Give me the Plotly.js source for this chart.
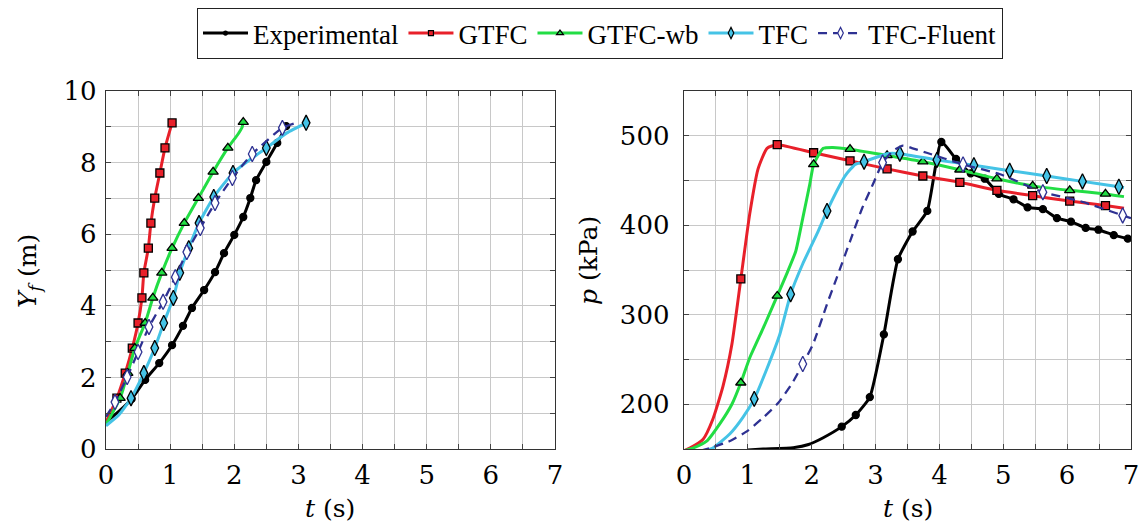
<!DOCTYPE html>
<html>
<head>
<meta charset="utf-8">
<script src="https://cdn.plot.ly/plotly-3.0.1.min.js"></script>
<style>html,body{margin:0;padding:0;background:#fff;}#chart{width:1142px;height:525px;}</style>
</head>
<body>
<div id="chart"></div>
<script>
// ---------- Left panel: flame front position Y_f (m) vs t (s) ----------
const expT_L = [0, 0.2, 0.40, 0.61, 0.83, 1.03, 1.20, 1.34, 1.53, 1.70, 1.84, 2.00, 2.14, 2.25, 2.34, 2.50, 2.67, 2.81];
const expY_L = [0.75, 1.05, 1.40, 1.93, 2.40, 2.90, 3.44, 3.94, 4.44, 4.94, 5.47, 5.98, 6.48, 7.01, 7.51, 8.02, 8.55, 9.02];

const gtfcT_L = [0, 0.08, 0.17, 0.30, 0.41, 0.50, 0.56, 0.59, 0.66, 0.70, 0.76, 0.84, 0.92, 1.03];
const gtfcY_L = [0.75, 1.05, 1.42, 2.12, 2.82, 3.52, 4.22, 4.92, 5.61, 6.31, 7.01, 7.71, 8.41, 9.11];

const wbT_L = [0, 0.22, 0.34, 0.45, 0.61, 0.73, 0.87, 1.03, 1.22, 1.44, 1.67, 1.90, 2.06, 2.12, 2.14];
const wbY_L = [0.68, 1.42, 2.12, 2.82, 3.52, 4.22, 4.92, 5.61, 6.31, 7.01, 7.74, 8.41, 8.80, 8.98, 9.13];

const tfcT_L = [0, 0.20, 0.39, 0.59, 0.76, 0.90, 1.05, 1.15, 1.29, 1.45, 1.68, 1.98, 2.28, 2.50, 2.82, 3.12];
const tfcY_L = [0.65, 0.95, 1.42, 2.12, 2.82, 3.52, 4.22, 4.92, 5.61, 6.31, 7.04, 7.71, 8.13, 8.41, 8.83, 9.11];

const fluT_L = [0, 0.14, 0.33, 0.50, 0.67, 0.89, 1.08, 1.26, 1.47, 1.70, 1.97, 2.28, 2.75, 2.98];
const fluY_L = [0.90, 1.31, 2.01, 2.71, 3.41, 4.11, 4.80, 5.50, 6.17, 6.87, 7.57, 8.24, 8.97, 9.12];

// ---------- Right panel: pressure p (kPa) vs t (s) ----------
const expT_R = [1.0, 1.24, 1.71, 1.95, 2.18, 2.47, 2.69, 2.91, 3.13, 3.35, 3.58, 3.81, 4.03, 4.26, 4.49, 4.71, 4.93, 5.16, 5.38, 5.62, 5.84, 6.06, 6.29, 6.49, 6.73, 6.95];
const expP_R = [149, 150, 151.5, 155, 162.6, 175, 188, 208, 278, 362, 393, 416, 493, 474, 458, 452, 435, 429, 420, 418, 408, 404, 397, 395, 389, 385];

const gtfcT_R = [0, 0.09, 0.30, 0.45, 0.61, 0.75, 0.89, 1.03, 1.16, 1.30, 1.46, 2.03, 2.60, 3.18, 3.74, 4.32, 4.90, 5.46, 6.04, 6.60, 6.89];
const gtfcP_R = [148, 151, 161, 183, 220, 267, 340, 413, 463, 486, 490, 481, 472, 463, 455, 448, 439, 433, 427, 422, 419];
const gtfcMT_R = [0.89, 1.46, 2.03, 2.60, 3.18, 3.74, 4.32, 4.90, 5.46, 6.04, 6.60];
const gtfcMP_R = [340, 490, 481, 472, 463, 455, 448, 439, 433, 427, 422];

const wbT_R = [0, 0.14, 0.36, 0.56, 0.75, 0.89, 1.03, 1.24, 1.46, 1.61, 1.75, 1.86, 1.97, 2.03, 2.18, 2.33, 2.60, 3.18, 3.74, 4.32, 4.90, 5.46, 6.04, 6.60, 6.89];
const wbP_R = [148, 151, 159, 178, 200, 224, 252, 285, 321, 346, 371, 408, 446, 468, 486, 487, 485, 478, 471, 462, 452, 444, 439, 435, 432];
const wbMT_R = [0.89, 1.46, 2.03, 2.60, 3.18, 3.74, 4.32, 4.90, 5.46, 6.04, 6.60];
const wbMP_R = [224, 321, 468, 485, 478, 471, 462, 452, 444, 439, 435];

const tfcT_R = [0.3, 0.45, 0.72, 0.92, 1.10, 1.30, 1.50, 1.67, 1.86, 2.08, 2.24, 2.39, 2.52, 2.68, 2.82, 3.18, 3.38, 3.96, 4.54, 5.10, 5.68, 6.24, 6.81, 6.89];
const tfcP_R = [148, 151, 167, 185, 206, 240, 278, 323, 357, 390, 416, 438, 455, 468, 471, 480, 480, 473, 467, 461, 455, 449, 443, 442];
const tfcMT_R = [1.10, 1.67, 2.24, 2.82, 3.38, 3.96, 4.54, 5.10, 5.68, 6.24, 6.81];
const tfcMP_R = [206, 323, 416, 471, 480, 473, 467, 461, 455, 449, 443];

const fluT_R = [0.25, 0.41, 0.72, 0.99, 1.24, 1.47, 1.69, 1.86, 2.02, 2.24, 2.39, 2.60, 2.79, 2.96, 3.11, 3.27, 3.43, 3.58, 3.80, 4.37, 4.95, 5.62, 6.20, 6.87, 7.0];
const fluP_R = [148, 151, 159, 170, 185, 201, 223, 245, 267, 312, 341, 382, 419, 446, 470, 483, 489, 486, 481, 468, 457, 437, 427, 411, 408];
const fluMT_R = [1.86, 3.11, 4.37, 5.62, 6.87];
const fluMP_R = [245, 470, 468, 437, 411];

const seriesNames = ["Experimental", "GTFC", "GTFC-wb", "TFC", "TFC-Fluent"];
const xTickLabels = ["0", "1", "2", "3", "4", "5", "6", "7"];

// ---------- styling ----------
const LEGFONT = "Liberation Serif";
const AXFONT = "DejaVu Serif";
function font(size, fam) { return {family: fam || LEGFONT, size: size, color: "#000"}; }
const C = {
  exp: "#000000",
  gtfc: "#e8202a",
  wb: "#22dd44",
  tfc: "#45c3e6",
  flu: "#2e3192"
};
const styles = {
  "Experimental": {color: C.exp, width: 3, dash: "solid", sym: "circle", size: 7, fill: C.exp, lc: C.exp},
  "GTFC": {color: C.gtfc, width: 3, dash: "solid", sym: "square", size: 8, fill: C.gtfc, lc: "#000"},
  "GTFC-wb": {color: C.wb, width: 3, dash: "solid", sym: "triangle-up", size: 9, fill: C.wb, lc: "#000"},
  "TFC": {color: C.tfc, width: 3, dash: "solid", sym: "diamond-tall", size: 11, fill: C.tfc, lc: "#000"},
  "TFC-Fluent": {color: C.flu, width: 2.3, dash: "9px,6px", sym: "diamond-tall", size: 11, fill: "#fff", lc: C.flu}
};

function lineTrace(name, x, y, xa, ya) {
  const s = styles[name];
  return {x: x, y: y, xaxis: xa, yaxis: ya, mode: "lines", type: "scatter", showlegend: false,
    hoverinfo: "skip", line: {color: s.color, width: s.width, dash: s.dash, shape: "spline", smoothing: 0.5}};
}
function markTrace(name, x, y, xa, ya) {
  const s = styles[name];
  return {x: x, y: y, xaxis: xa, yaxis: ya, mode: "markers", type: "scatter", showlegend: false,
    hoverinfo: "skip", marker: {symbol: s.sym, size: s.size, color: s.fill, line: {color: s.lc, width: 1.3}}};
}
function legendTrace(name) {
  const s = styles[name];
  return {x: [null], y: [null], name: name, mode: "lines+markers", type: "scatter", showlegend: true,
    line: {color: s.color, width: s.width, dash: s.dash},
    marker: {symbol: s.sym, size: s.size - 3, color: s.fill, line: {color: s.lc, width: 1.2}}};
}

const traces = [];
// Left panel
traces.push(lineTrace("Experimental", expT_L, expY_L, "x", "y"));
traces.push(markTrace("Experimental", expT_L.slice(2), expY_L.slice(2), "x", "y"));
traces.push(lineTrace("GTFC", gtfcT_L, gtfcY_L, "x", "y"));
traces.push(markTrace("GTFC", gtfcT_L.slice(2), gtfcY_L.slice(2), "x", "y"));
traces.push(lineTrace("GTFC-wb", wbT_L, wbY_L, "x", "y"));
traces.push(markTrace("GTFC-wb", wbT_L.filter((t, i) => i > 0 && i !== 12 && i !== 13), wbY_L.filter((t, i) => i > 0 && i !== 12 && i !== 13), "x", "y"));
traces.push(lineTrace("TFC", tfcT_L, tfcY_L, "x", "y"));
traces.push(markTrace("TFC", tfcT_L.filter((t, i) => i > 1 && i !== 12 && i !== 14), tfcY_L.filter((t, i) => i > 1 && i !== 12 && i !== 14), "x", "y"));
traces.push(lineTrace("TFC-Fluent", fluT_L, fluY_L, "x", "y"));
traces.push(markTrace("TFC-Fluent", fluT_L.slice(1, -1), fluY_L.slice(1, -1), "x", "y"));
// Right panel
traces.push(lineTrace("Experimental", expT_R, expP_R, "x2", "y2"));
traces.push(markTrace("Experimental", expT_R.slice(5), expP_R.slice(5), "x2", "y2"));
traces.push(lineTrace("GTFC", gtfcT_R, gtfcP_R, "x2", "y2"));
traces.push(markTrace("GTFC", gtfcMT_R, gtfcMP_R, "x2", "y2"));
traces.push(lineTrace("GTFC-wb", wbT_R, wbP_R, "x2", "y2"));
traces.push(markTrace("GTFC-wb", wbMT_R, wbMP_R, "x2", "y2"));
traces.push(lineTrace("TFC", tfcT_R, tfcP_R, "x2", "y2"));
traces.push(markTrace("TFC", tfcMT_R, tfcMP_R, "x2", "y2"));
traces.push(lineTrace("TFC-Fluent", fluT_R, fluP_R, "x2", "y2"));
traces.push(markTrace("TFC-Fluent", fluMT_R, fluMP_R, "x2", "y2"));
// Legend entries
seriesNames.forEach(n => traces.push(legendTrace(n)));

const W = 1142, H = 525;
const yDom = [1 - 449 / H, 1 - 91 / H];
const GRID = "#c8c8c8";

function xAxis(dom, anchor) {
  return {domain: dom, anchor: anchor, range: [0, 7], tickmode: "array", tickvals: [0,1,2,3,4,5,6,7], ticktext: xTickLabels,
    ticks: "inside", ticklen: 5, tickcolor: "#444", mirror: "allticks", showline: true, linecolor: "#333", linewidth: 1.3,
    showgrid: true, gridcolor: GRID, gridwidth: 1, zeroline: false, tickfont: font(26, AXFONT), ticklabelstandoff: 2,
    minor: {dtick: 0.5, tick0: 0, showgrid: true, gridcolor: GRID, gridwidth: 1, ticks: "inside", ticklen: 5, tickcolor: "#444"},
    fixedrange: true};
}
function yAxis(dom, anchor, range, dtick, mdtick, standoff) {
  return {domain: dom, anchor: anchor, range: range, dtick: dtick, tick0: 0,
    ticks: "inside", ticklen: 5, tickcolor: "#444", mirror: "allticks", showline: true, linecolor: "#333", linewidth: 1.3,
    showgrid: true, gridcolor: GRID, gridwidth: 1, zeroline: false, tickfont: font(26, AXFONT), ticklabelstandoff: standoff,
    minor: {dtick: mdtick, tick0: 0, showgrid: true, gridcolor: GRID, gridwidth: 1, ticks: "inside", ticklen: 5, tickcolor: "#444"},
    fixedrange: true};
}

const layout = {
  width: W, height: H,
  font: font(27),
  margin: {l: 0, r: 0, t: 0, b: 0},
  paper_bgcolor: "#fff", plot_bgcolor: "#fff",
  xaxis: xAxis([106 / W, 555 / W], "y"),
  yaxis: yAxis(yDom, "x", [0, 10], 2, 1, 3),
  xaxis2: xAxis([684 / W, 1131 / W], "y2"),
  yaxis2: yAxis(yDom, "x2", [150, 550], 100, 50, 8),
  showlegend: true,
  legend: {orientation: "h", x: 600 / W, xanchor: "center", y: 1 - 8 / H, yanchor: "top",
    bordercolor: "#222", borderwidth: 1, bgcolor: "#fff", font: font(27), itemwidth: 45,
    traceorder: "normal"},
  annotations: [
    {text: "<i>t</i> (s)", x: 330 / W, y: 1 - 508 / H, xref: "paper", yref: "paper", showarrow: false, font: font(25, AXFONT), xanchor: "center", yanchor: "middle"},
    {text: "<i>t</i> (s)", x: 908 / W, y: 1 - 508 / H, xref: "paper", yref: "paper", showarrow: false, font: font(25, AXFONT), xanchor: "center", yanchor: "middle"},
    {text: "<i>Y<sub>f</sub></i> (m)", x: 29 / W, y: 1 - 271 / H, xref: "paper", yref: "paper", showarrow: false, font: font(25, AXFONT), textangle: -90, xanchor: "center", yanchor: "middle"},
    {text: "<i>p</i> (kPa)", x: 588 / W, y: 1 - 261 / H, xref: "paper", yref: "paper", showarrow: false, font: font(25, AXFONT), textangle: -90, xanchor: "center", yanchor: "middle"}
  ]
};

Plotly.newPlot("chart", traces, layout, {staticPlot: true, displayModeBar: false});
</script>
</body>
</html>
